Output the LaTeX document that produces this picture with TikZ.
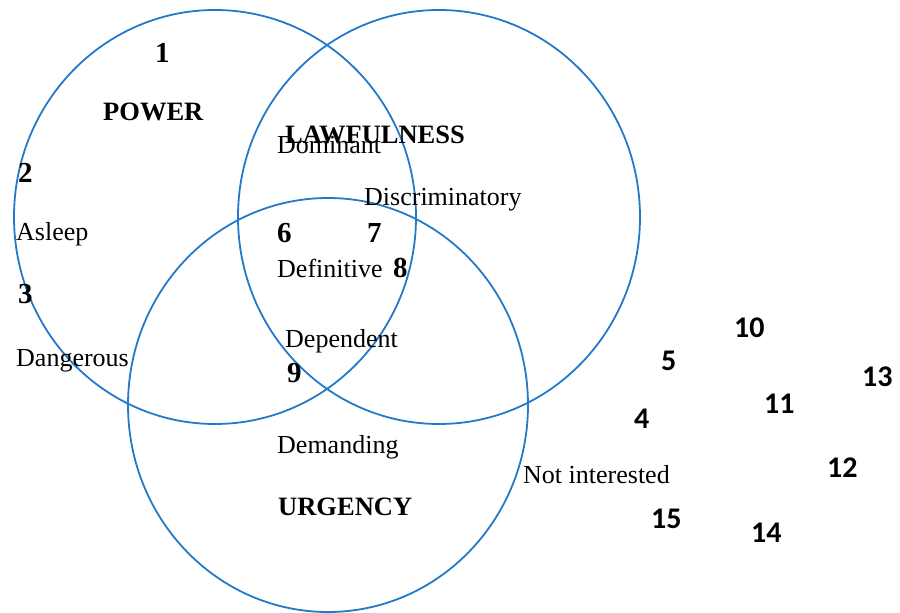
\documentclass[tikz,border=0pt]{standalone}
\usepackage{fontspec}
\setmainfont{Liberation Serif}
\newfontfamily\numsans{Carlito}
\definecolor{vennblue}{RGB}{36,121,201}
\tikzset{
  ring/.style={draw=vennblue, line width=1.8pt},
  lbl/.style={inner sep=0pt, anchor=base west, font=\fontsize{26}{30}\selectfont},
  title/.style={inner sep=0pt, anchor=base west, font=\fontsize{26.5}{30}\selectfont\bfseries},
  snum/.style={inner sep=0pt, anchor=base west, font=\fontsize{29}{32}\selectfont\bfseries},
  cnum/.style={inner sep=0pt, anchor=base west, font=\fontsize{30}{34}\selectfont\numsans\bfseries}
}
\begin{document}
\begin{tikzpicture}[x=1pt,y=-1pt]
\useasboundingbox (0,0) rectangle (900,613);
% circles
\draw[ring] (215,217) ellipse [x radius=201pt, y radius=207pt];
\draw[ring] (439,217) ellipse [x radius=201pt, y radius=207pt];
\draw[ring] (328,405) ellipse [x radius=200pt, y radius=207pt];
% titles
\node[title] (power) at (103,120) {POWER};
\node[title] (law) at (285,143) {LAWFULNESS};
\node[title] (urg) at (278,515) {URGENCY};
% labels
\node[lbl] (dom) at (277,153) {Dominant};
\node[lbl] (disc) at (364,205) {Discriminatory};
\node[lbl] (asleep) at (16,240) {Asleep};
\node[lbl] (dang) at (16,366) {Dangerous};
\node[lbl] (defi) at (277,277) {Definitive};
\node[lbl] (dep) at (285,347) {Dependent};
\node[lbl] (dem) at (277,453) {Demanding};
\node[lbl] (noti) at (523,483) {Not interested};
% serif numbers
\node[snum] (n1) at (155,62) {1};
\node[snum] (n2) at (18,182) {2};
\node[snum] (n3) at (18,303) {3};
\node[snum] (n6) at (277,242) {6};
\node[snum] (n7) at (367,242) {7};
\node[snum] (n8) at (393,277) {8};
\node[snum] (n9) at (287,382) {9};
% sans numbers
\node[cnum] (n4) at (634,428) {4};
\node[cnum] (n5) at (661,370) {5};
\node[cnum] (n10) at (734,337) {10};
\node[cnum] (n11) at (764,413) {11};
\node[cnum] (n12) at (827,477) {12};
\node[cnum] (n13) at (862,386) {13};
\node[cnum] (n14) at (751,542) {14};
\node[cnum] (n15) at (651,528) {15};
\end{tikzpicture}
\end{document}
